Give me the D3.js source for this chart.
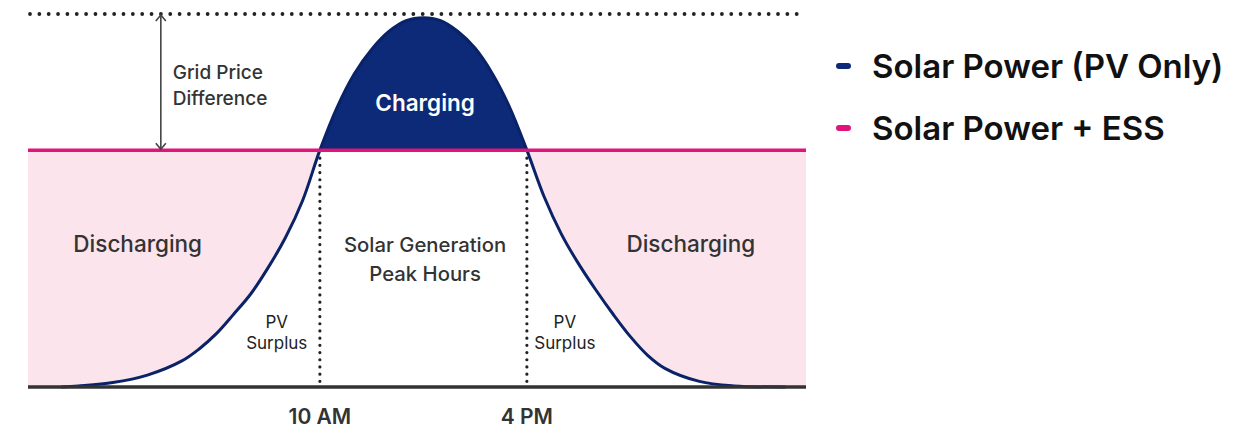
<!DOCTYPE html>
<html>
<head>
<meta charset="utf-8">
<script src="https://cdn.jsdelivr.net/npm/d3@7/dist/d3.min.js"></script>
<style>
  body { margin: 0; background: #fff; }
  text { font-family: Inter, "Noto Sans", sans-serif; }
</style>
</head>
<body>
<div id="chart"></div>
<script>
// hours of the day and PV output (% of peak)
var hours    = [2.5, 3, 4, 5, 6, 6.5, 7, 7.5, 8, 8.5, 9, 9.5, 10, 10.5, 11, 11.5, 12, 12.5, 13,
                13.5, 14, 14.5, 15, 15.5, 16, 16.5, 17, 17.5, 18, 18.5, 19, 19.5, 20, 21, 22, 23.5];
var pvOutput = [0, 0.3, 1.2, 3.2, 7, 10.2, 14.3, 19.5, 25, 32, 40, 50, 63.5, 75, 84, 90.5, 95.3, 98.2, 99,
                98.2, 95.3, 90.8, 84, 75, 63.5, 51, 41, 33, 26, 19.5, 13.5, 8.5, 5, 1.5, 0.3, 0];

// levels
var essLevel = 63.5;   // Solar Power + ESS (flat line)
var topLevel = 100;    // dotted grid price line

// x ticks
var tickHours  = [10, 16];
var tickLabels = ["10 AM", "4 PM"];

// legend
var legendLabels = ["Solar Power (PV Only)", "Solar Power + ESS"];
var legendColors = ["#0c2a78", "#e0157a"];

var W = 1252, H = 434;
var svg = d3.select("#chart").append("svg")
    .attr("width", W)
    .attr("height", H);

var x = d3.scaleLinear().domain([1.54, 24.09]).range([28, 806]);
var y = d3.scaleLinear().domain([0, 100]).range([387, 14]);

var data = hours.map(function (h, i) { return { h: h, v: pvOutput[i] }; });
var curve = d3.curveCatmullRom.alpha(0.5);

//pink discharge band
svg.append("rect")
    .attr("x", x.range()[0])
    .attr("y", y(essLevel))
    .attr("width", x.range()[1] - x.range()[0])
    .attr("height", y(0) - y(essLevel))
    .attr("fill", "#fbe4ec");

var area = d3.area()
    .x(function (d) { return x(d.h); })
    .y0(y(0))
    .y1(function (d) { return y(d.v); })
    .curve(curve);

// white under the curve
svg.append("path")
    .datum(data)
    .attr("d", area)
    .attr("fill", "#fff");

// dark charging cap above the ESS line
svg.append("clipPath").attr("id", "above")
    .append("rect")
    .attr("x", 0).attr("y", 0)
    .attr("width", W).attr("height", y(essLevel));

svg.append("path")
    .datum(data)
    .attr("d", area)
    .attr("fill", "#0c2a78")
    .attr("clip-path", "url(#above)");

// vertical dotted lines at 10 AM / 4 PM
svg.selectAll(".vdot")
    .data(tickHours)
    .enter().append("line")
    .attr("class", "vdot")
    .attr("x1", function (d) { return x(d); })
    .attr("x2", function (d) { return x(d); })
    .attr("y1", y(essLevel) + 8)
    .attr("y2", y(0))
    .attr("stroke", "#222")
    .attr("stroke-width", 3.2)
    .attr("stroke-linecap", "round")
    .attr("stroke-dasharray", "0,7.2");

// PV curve
var line = d3.line()
    .x(function (d) { return x(d.h); })
    .y(function (d) { return y(d.v); })
    .curve(curve);

svg.append("path")
    .datum(data)
    .attr("d", line)
    .attr("fill", "none")
    .attr("stroke", "#0a2268")
    .attr("stroke-width", 3);

// ESS line
svg.append("line")
    .attr("x1", x.range()[0]).attr("x2", x.range()[1])
    .attr("y1", y(essLevel)).attr("y2", y(essLevel))
    .attr("stroke", "#e0157a")
    .attr("stroke-width", 3.5);

// baseline
svg.append("line")
    .attr("x1", x.range()[0]).attr("x2", x.range()[1])
    .attr("y1", y(0)).attr("y2", y(0))
    .attr("stroke", "#333")
    .attr("stroke-width", 3.5);

// dotted top line
svg.append("line")
    .attr("x1", x.range()[0] + 2).attr("x2", x.range()[1])
    .attr("y1", y(topLevel)).attr("y2", y(topLevel))
    .attr("stroke", "#222")
    .attr("stroke-width", 3.8)
    .attr("stroke-linecap", "round")
    .attr("stroke-dasharray", "0,9.35");

// double arrow: grid price difference
var ax = x(5.39), ay1 = y(topLevel) + 1, ay2 = y(essLevel) - 1;
svg.append("line")
    .attr("x1", ax).attr("x2", ax)
    .attr("y1", ay1).attr("y2", ay2)
    .attr("stroke", "#444").attr("stroke-width", 1.6);
svg.append("path")
    .attr("d", "M" + (ax - 5) + "," + (ay1 + 6) + "L" + ax + "," + ay1 + "L" + (ax + 5) + "," + (ay1 + 6)
        + "M" + (ax - 5) + "," + (ay2 - 6) + "L" + ax + "," + ay2 + "L" + (ax + 5) + "," + (ay2 - 6))
    .attr("fill", "none").attr("stroke", "#444").attr("stroke-width", 1.6);

svg.append("text")
    .attr("x", ax + 12).attr("y", 79)
    .attr("font-size", 19).attr("fill", "#333").attr("font-weight", 500)
    .selectAll("tspan")
    .data(["Grid Price", "Difference"])
    .enter().append("tspan")
    .attr("x", ax + 12)
    .attr("dy", function (d, i) { return i ? 26 : 0; })
    .text(String);

// region labels
function label(hx, yy, lines, size, weight, color, gap) {
    svg.append("text")
        .attr("text-anchor", "middle")
        .attr("font-size", size).attr("font-weight", weight).attr("fill", color)
        .selectAll("tspan")
        .data(lines)
        .enter().append("tspan")
        .attr("x", x(hx))
        .attr("y", function (d, i) { return yy + i * gap; })
        .text(String);
}
label(13.05, 111, ["Charging"], 22.5, 600, "#fff", 0);
label(4.72, 252, ["Discharging"], 22.5, 500, "#333", 0);
label(20.75, 252, ["Discharging"], 22.5, 500, "#333", 0);
label(13.05, 252, ["Solar Generation", "Peak Hours"], 20.3, 500, "#333", 29);
label(8.75, 328, ["PV", "Surplus"], 17, 400, "#222", 21);
label(17.1, 328, ["PV", "Surplus"], 17, 400, "#222", 21);

// x tick labels
svg.selectAll(".tick-label")
    .data(tickHours)
    .enter().append("text")
    .attr("class", "tick-label")
    .attr("x", function (d) { return x(d); })
    .attr("y", 424)
    .attr("text-anchor", "middle")
    .attr("font-size", 21).attr("font-weight", 600).attr("fill", "#333")
    .text(function (d, i) { return tickLabels[i]; });

// legend
var lg = svg.selectAll(".legend")
    .data(legendLabels)
    .enter().append("g")
    .attr("class", "legend")
    .attr("transform", function (d, i) { return "translate(839," + (66 + i * 62) + ")"; });

lg.append("line")
    .attr("x1", 0).attr("x2", 9)
    .attr("stroke", function (d, i) { return legendColors[i]; })
    .attr("stroke-width", 6)
    .attr("stroke-linecap", "round");

lg.append("text")
    .attr("x", 33).attr("y", 12)
    .attr("font-size", 33).attr("font-weight", 600).attr("fill", "#111")
    .text(String);
</script>
</body>
</html>
